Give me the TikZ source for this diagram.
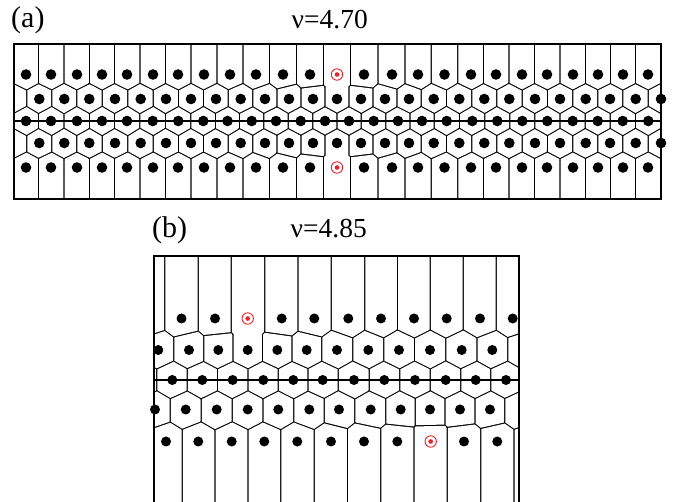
\documentclass[tikz,border=0pt]{standalone}
\usepackage{fontspec}
\setmainfont{Liberation Serif}
\definecolor{defred}{RGB}{232,32,40}
\tikzset{
  lbl/.style={anchor=base west, inner sep=0pt, font=\fontsize{30}{34}\selectfont},
  nulbl/.style={anchor=base west, inner sep=0pt, font=\fontsize{27.5}{32}\selectfont},
  frame/.style={line width=1.8pt},
  midline/.style={line width=1.3pt},
}
\def\gap{0.62}
% Voronoi cell of centre (#1,#2) with x-period #3, shrunk by \gap, filled white
\newcommand\vcell[3]{%
 \begin{scope}
  \foreach \xj/\yj in \curpts {%
    \edef\vdx{\fpeval{\xj-(#1)}}%
    \edef\vdx{\fpeval{\vdx-(#3)*round(\vdx/(#3))}}%
    \edef\vdy{\fpeval{\yj-(#2)}}%
    \ifnum\fpeval{abs(\vdx)<75 && abs(\vdy)<75 && abs(\vdx)+abs(\vdy)>0.5}=1
      \edef\vlen{\fpeval{sqrt(\vdx*\vdx+\vdy*\vdy)}}%
      \edef\vux{\fpeval{\vdx/\vlen}}\edef\vuy{\fpeval{\vdy/\vlen}}%
      \edef\vbx{\fpeval{(#1)+\vdx/2-\gap*\vux}}\edef\vby{\fpeval{(#2)+\vdy/2-\gap*\vuy}}%
      \edef\pax{\fpeval{round(\vbx-1500*\vuy,3)}}\edef\pay{\fpeval{round(\vby+1500*\vux,3)}}%
      \edef\pbx{\fpeval{round(\vbx+1500*\vuy,3)}}\edef\pby{\fpeval{round(\vby-1500*\vux,3)}}%
      \edef\pcx{\fpeval{round(\vbx+1500*\vuy-1500*\vux,3)}}\edef\pcy{\fpeval{round(\vby-1500*\vux-1500*\vuy,3)}}%
      \edef\pdx{\fpeval{round(\vbx-1500*\vuy-1500*\vux,3)}}\edef\pdy{\fpeval{round(\vby+1500*\vux-1500*\vuy,3)}}%
      \clip (\pax,\pay) -- (\pbx,\pby) -- (\pcx,\pcy) -- (\pdx,\pdy) -- cycle;
    \fi
  }%
  \fill[white] (0,0) rectangle (700,520);
 \end{scope}}
% all cells of \curpts; #1 left, #2 right, #3 period
\newcommand\drawcells[3]{%
 \foreach \xi/\yi in \curpts {%
   \vcell{\xi}{\yi}{#3}%
   \ifdim \xi pt > \fpeval{#2-80}pt \vcell{\fpeval{\xi-(#3)}}{\yi}{#3}\fi
   \ifdim \xi pt < \fpeval{#1+80}pt \vcell{\fpeval{\xi+(#3)}}{\yi}{#3}\fi
 }}
\newcommand\redmark[1]{%
  \fill[white] #1 circle[radius=6.8pt];
  \draw[defred, line width=0.9pt] #1 circle[radius=5.7pt];
  \fill[defred] #1 circle[radius=2.3pt];}

\def\ptsA{26/74.5, 51/74.5, 77/74.5, 102/74.5, 127/74.5, 153/74.5, 178/74.5, 204/74.5, 230/74.5, 256/74.5, 283/74.5, 310/74.5, 337/74.5, 364/74.5, 392/74.5, 418/74.5, 444.5/74.5, 471/74.5, 496/74.5, 522/74.5, 547/74.5, 573/74.5, 598/74.5, 623/74.5, 648/74.5,
39.3/99, 64.3/99, 89.3/99, 115/99, 140.7/99, 166/99, 191/99, 216/99, 240.7/99, 265/99, 289/99, 313/99, 337/99, 361/99, 385/99, 409/99, 433.7/99, 459.3/99, 484.3/99, 509.3/99, 535/99, 560/99, 585.7/99, 610/99, 635.7/99, 661/99,
26/121, 51/121, 77/121, 102/121, 127/121, 152.7/121, 178.3/121, 203.3/121, 227.5/121, 251.7/121, 276/121, 300.7/121, 325/121, 349/121, 373.7/121, 398/121, 422/121, 446.7/121, 472.3/121, 497.3/121, 522.3/121, 547.3/121, 572.7/121, 597.7/121, 622.7/121, 648.3/121,
39.3/143, 64.3/143, 89.3/143, 115/143, 140.7/143, 166/143, 191/143, 216/143, 240.7/143, 265/143, 289/143, 313/143, 337/143, 361/143, 385/143, 409/143, 433.7/143, 459.3/143, 484.3/143, 509.3/143, 535/143, 560/143, 585.7/143, 610/143, 635.7/143, 661/143,
26/167.5, 51/167.5, 77/167.5, 102/167.5, 127/167.5, 153/167.5, 178/167.5, 204/167.5, 230/167.5, 256/167.5, 283/167.5, 310/167.5, 337/167.5, 364/167.5, 392/167.5, 418/167.5, 444.5/167.5, 471/167.5, 496/167.5, 522/167.5, 547/167.5, 573/167.5, 598/167.5, 623/167.5, 648/167.5}

\def\ptsB{181.5/318.5, 215/318.5, 247.7/318.5, 281.7/318.5, 314.3/318.5, 348.3/318.5, 381/318.5, 414/318.5, 446.7/318.5, 480/318.5, 512.7/318.5,
158.3/350, 189/350, 218.3/350, 247.7/350, 277.3/350, 306.7/350, 337/350, 368.3/350, 399/350, 430/350, 461.7/350, 492.3/350,
172.3/380, 202.3/380, 232.7/380, 263.3/380, 293.3/380, 322.7/380, 354/380, 384.3/380, 415/380, 445.7/380, 475.7/380, 506/380,
155/409.5, 185.7/409.5, 216.7/409.5, 247.7/409.5, 278.3/409.5, 309.3/409.5, 339/409.5, 370.7/409.5, 400.7/409.5, 430/409.5, 460/409.5, 490/409.5,
166/441.5, 198.3/441.5, 231.7/441.5, 264.3/441.5, 297.3/441.5, 331/441.5, 364/441.5, 397.3/441.5, 430.7/441.5, 464/441.5, 497.3/441.5}

\begin{document}
\begin{tikzpicture}[x=1pt,y=-1pt]
\useasboundingbox (0,0) rectangle (673,502);

% ---------- panel (a)
\coordinate (aNW) at (14,44);
\coordinate (aSE) at (661,199);
\begin{scope}
  \clip (aNW) rectangle (aSE);
  \fill[black] (aNW) rectangle (aSE);
  \let\curpts\ptsA
  \drawcells{14}{661}{647}
\end{scope}
\coordinate (aML) at (14,121);
\coordinate (aMR) at (661,121);
\draw[midline] (aML) -- (aMR);
\draw[frame] (aNW) rectangle (aSE);
\foreach \x/\y in \ptsA {\fill (\x,\y) circle[radius=5.3pt];}
\coordinate (ra1) at (337,74.5);
\coordinate (ra2) at (337,167.5);
\redmark{(ra1)}
\redmark{(ra2)}
\node[lbl] (la) at (11,28) {(a)};
\node[nulbl] (nua) at (291.5,28.3) {ν=4.70};

% ---------- panel (b)
\coordinate (bNW) at (154,255.7);
\coordinate (bSE) at (518.7,515);
\begin{scope}
  \clip (bNW) rectangle (bSE);
  \fill[black] (bNW) rectangle (bSE);
  \let\curpts\ptsB
  \drawcells{154}{518.7}{364.7}
\end{scope}
\coordinate (bML) at (154,380);
\coordinate (bMR) at (518.7,380);
\draw[midline] (bML) -- (bMR);
\draw[frame] (bNW) rectangle (bSE);
\foreach \x/\y in \ptsB {\fill (\x,\y) circle[radius=5pt];}
\coordinate (rb1) at (247.7,318.5);
\coordinate (rb2) at (430.7,441.5);
\redmark{(rb1)}
\redmark{(rb2)}
\node[lbl] (lb) at (152,237.5) {(b)};
\node[nulbl] (nub) at (290.5,237.7) {ν=4.85};
\end{tikzpicture}
\end{document}
